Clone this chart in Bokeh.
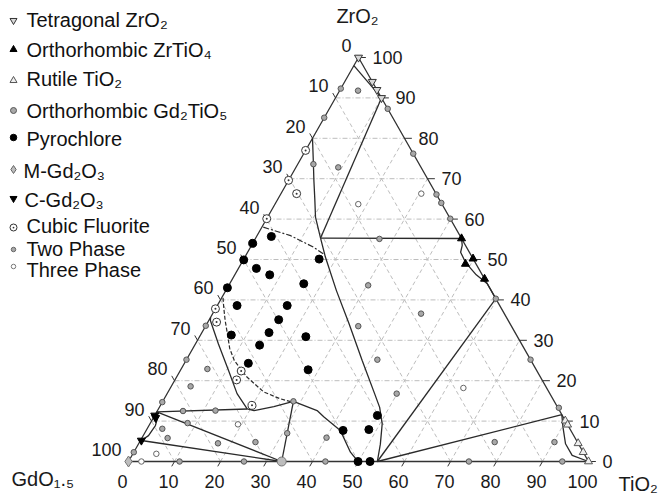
import numpy as np
from bokeh.plotting import figure
from bokeh.models import Range1d
from bokeh.embed import file_html
from bokeh.resources import INLINE
from bokeh.core.properties import value

# ---------------- data: ternary compositions (TiO2 %, ZrO2 %), GdO1.5 = 100 - TiO2 - ZrO2
tetragonal_ti = [0, 6, 8, 10]
tetragonal_zr = [100, 94, 92, 90]

zrtio4_ti = [44.8, 49.8, 48.8, 54.8]
zrtio4_zr = [55.2, 50.2, 48.9, 45.2]

rutile_ti = [100, 97.7, 95.5, 89.9, 90.9]
rutile_zr = [0, 2.3, 4.5, 10.1, 9.1]

gd2tio5_ti = [33.3]
gd2tio5_zr = [0]

pyro_ti = [3.2, 0, 0.1, 3.9, 7.6, 16.4, 16.1, 0, 4.3, 15.2, 15.1, 6.7, 14.6, 23.1,
           14.1, 13.9, 27.7, 42.8, 48.3, 48.4, 49.9, 52.5]
pyro_zr = [55.7, 54.0, 49.9, 47.8, 46.2, 50.1, 44.0, 43.0, 38.6, 38.6, 35.1, 31.3, 31.9, 30.9,
           28.8, 24.3, 22.7, 7.7, 7.9, 11.4, 0, 0]

mgd2o3_ti = [0]
mgd2o3_zr = [0]

cgd2o3_ti = [0, 0.5, 0.2]
cgd2o3_zr = [11.4, 10.8, 5.2]

fluorite_ti = [0, 0, 3.4, 0, 0, 1.9, 13.3, 13.4, 19.9]
fluorite_zr = [77, 69.6, 66.3, 60.1, 37.8, 34.5, 22.4, 20.2, 13.9]

two_ti = [4.0, 0, 0, 3.4, 9.2, 12.7, 23.8, 33.9, 36.0, 39.9, 27.0, 30.3, 33.2, 41.5, 45.3,
          49.9, 59.7, 74.8, 86.9, 77.2, 90.2, 74.0, 94.3, 0, 0, 0, 0, 5.7, 4.2, 5.6,
          12.6, 28.4, 8.1, 3.3, 5.6, 17.2, 25.2, 31.0, 11.1, 25.1, 42.8, 40.1]
two_zr = [91.8, 92.3, 85.1, 73.6, 72.8, 87.3, 76.2, 66.1, 64.0, 60.1, 55.1, 43.6, 33.5, 25.2, 36.6,
          16.8, 40.3, 25.2, 13.3, 4.8, 4.8, 0, 0, 33.6, 25.2, 14.7, 2.3, 22.9, 18.6, 12.5,
          12.6, 14.9, 9.5, 8.1, 5.8, 4.5, 4.8, 7.0, 0, 0, 0, 5.9]

three_ti = [18.1, 30.5, 63.7, 19.2, 5.1, 2.8]
three_zr = [63.7, 66.3, 18.2, 9.2, 1.9, 0]

# phase boundaries (TiO2 %, ZrO2 %)
solid_lines = [
    ([0, 10], [98, 90]),
    ([10, 14.1], [90, 55.3]),
    ([0, 3.4, 5.5, 8, 10.4, 14.1], [80, 73.6, 69.6, 65, 60.5, 55.3]),
    ([14.1, 44.8], [55.3, 55.2]),
    ([14.1, 17.5, 24.05, 30.9, 38.3, 45.1, 47.9, 50.5, 52.6, 54.1],
     [55.3, 50.6, 42.3, 34.1, 25.0, 16.8, 13.4, 9.3, 4.3, 0]),
    ([0, 0.35, 5, 10.5, 15.2, 19.3, 21, 24.8, 28.4, 34.7, 37, 42.2, 47.1, 49.9],
     [35.7, 34.9, 29.1, 22.5, 16.8, 13.0, 12.6, 13.6, 14.9, 12.6, 11, 7.7, 2.3, 0]),
    ([0, 19.3], [12.3, 13.0]),
    ([0, 33.3], [12.3, 0]),
    ([0.2, 33.3], [5.2, 0]),
    ([0, 1.0, 1.4, 1.15, 0.2], [12.3, 10.5, 8.9, 6.4, 5.2]),
    ([33.3, 28.4], [0, 14.9]),
    ([54.1, 59.7], [0, 40.3]),
    ([54.1, 88.4], [0, 11.6]),
    ([88.4, 90.2, 92.8, 95.7, 100], [11.6, 8.5, 4.4, 1.5, 0]),
    ([44.8, 45.8, 46.3, 48.6, 52.5, 56, 59.7], [55.2, 53.5, 51.8, 49.3, 46.2, 44, 40.3]),
]
dashdot_ti = [0.3, 7.3, 13.8, 17.0]
dashdot_zr = [58.0, 55.9, 53.0, 51.2]
dashed_ti = [0.3, 1.6, 3.5, 5.7, 8, 10.5, 15.3, 20.8, 25.3, 28]
dashed_zr = [40.5, 38.2, 35, 31.6, 28, 25, 20.9, 17.2, 15.5, 14.8]

tick_values = list(range(0, 101, 10))
tick_labels = [str(v) for v in tick_values]

legend_labels = ["Tetragonal ZrO\u2082", "Orthorhombic ZrTiO\u2084", "Rutile TiO\u2082",
                 "Orthorhombic Gd\u2082TiO\u2085", "Pyrochlore", "M-Gd\u2082O\u2083",
                 "C-Gd\u2082O\u2083", "Cubic Fluorite", "Two Phase", "Three Phase"]

# ---------------- layout
PX, PY = 4.6, 4.04      # pixels per unit
OX, OY = 128, 461       # picture pixel of the GdO1.5 corner
W, H = 663, 502
FONT = "Liberation Sans"
TUP = 7 / PY            # text baseline correction (upwards)


def tern(t, z):
    t = np.asarray(t, float)
    z = np.asarray(z, float)
    return t + z / 2.0, z


def img(ix, iy):
    return (ix - OX) / PX, (OY - iy) / PY


p = figure(width=W, height=H, output_backend="svg", toolbar_location=None,
           x_range=Range1d((0 - OX) / PX, (W - OX) / PX),
           y_range=Range1d((OY - H) / PY, OY / PY),
           x_axis_location=None, y_axis_location=None, min_border=0,
           outline_line_color=None, background_fill_color="white",
           border_fill_color="white")
p.xgrid.visible = False
p.ygrid.visible = False

# grid
ks = np.arange(10, 100, 10)
zero = np.zeros_like(ks)
gcol = "#bdbdbd"
x0, y0 = tern(zero, ks); x1, y1 = tern(100 - ks, ks)
p.segment(x0, y0, x1, y1, line_color=gcol, line_width=1, line_dash="5 2 1 2")
x0, y0 = tern(ks, zero); x1, y1 = tern(ks, 100 - ks)
p.segment(x0, y0, x1, y1, line_color=gcol, line_width=1, line_dash="4 3")
x0, y0 = tern(100 - ks, zero); x1, y1 = tern(zero, 100 - ks)
p.segment(x0, y0, x1, y1, line_color=gcol, line_width=1, line_dash="4 3")

# ticks
ecol = "#333333"
x0, y0 = tern(ks, zero); x1, y1 = tern(ks, zero - 1.2)
p.segment(x0, y0, x1, y1, line_color=ecol, line_width=1)
x0, y0 = tern(zero, 100 - ks); x1, y1 = tern(zero - 1.2, 100 - ks + 1.2)
p.segment(x0, y0, x1, y1, line_color=ecol, line_width=1)
tv = np.array(tick_values, float)
x0, y0 = tern(100 - tv, tv); x1, y1 = tern(100 - tv + 1.6, tv)
p.segment(x0, y0, x1, y1, line_color=ecol, line_width=1)

# triangle
tx, ty = tern([0, 100, 0, 0], [0, 0, 100, 0])
p.line(tx, ty, line_color=ecol, line_width=1.3)

# boundaries
for lt, lz in solid_lines:
    bx, by = tern(lt, lz)
    p.line(bx, by, line_color="#2a2a2a", line_width=1.3)
bx, by = tern(dashdot_ti, dashdot_zr)
p.line(bx, by, line_color="#2a2a2a", line_width=1.2, line_dash="6 2 2 2")
bx, by = tern(dashed_ti, dashed_zr)
p.line(bx, by, line_color="#2a2a2a", line_width=1.2, line_dash="4 2")

# markers
def pts(t, z, **kw):
    mx, my = tern(t, z)
    p.scatter(mx, my, **kw)

pts(two_ti, two_zr, marker="circle", size=5.5, fill_color="#a8a8a8", line_color="#555555", line_width=1)
pts(three_ti, three_zr, marker="circle", size=5.5, fill_color="white", line_color="#666666", line_width=1)
pts(tetragonal_ti, tetragonal_zr, marker="inverted_triangle", size=8, fill_color="#d8d8d8", line_color="#333333")
pts(zrtio4_ti, zrtio4_zr, marker="triangle", size=8, fill_color="black", line_color="black")
pts(rutile_ti, rutile_zr, marker="triangle", size=8, fill_color="#eeeeee", line_color="#555555")
pts(gd2tio5_ti, gd2tio5_zr, marker="circle", size=9, fill_color="#bdbdbd", line_color="#777777")
pts(pyro_ti, pyro_zr, marker="circle", size=8, fill_color="black", line_color="black")
pts(mgd2o3_ti, mgd2o3_zr, marker="diamond", size=11, fill_color="#bdbdbd", line_color="#777777")
pts(cgd2o3_ti, cgd2o3_zr, marker="inverted_triangle", size=8, fill_color="black", line_color="black")
pts(fluorite_ti, fluorite_zr, marker="circle_dot", size=8, fill_color="white", line_color="#333333")

# tick labels
tfont = dict(text_font=value(FONT), text_font_size="18px", text_color="#1a1a1a",
             text_baseline="alphabetic")
bx, by = tern(tv, np.zeros_like(tv))
p.text(bx - 6 / PX, by - 27 / PY + TUP, text=tick_labels, text_align="center", **tfont)
lx, ly = tern(np.zeros_like(tv), 100 - tv)
p.text(lx - 7 / PX, ly + 5 / PY + TUP, text=tick_labels, text_align="right", **tfont)
rx, ry = tern(100 - tv, tv)
p.text(rx + 14 / PX, ry - 7 / PY + TUP, text=tick_labels, text_align="left", **tfont)

# axis titles
afont = dict(text_font=value(FONT), text_font_size="20px", text_color="#1a1a1a",
             text_baseline="alphabetic")
ax_, ay_ = tern([0], [100])
p.text(ax_ - 1 / PX, [(OY - 22) / PY + TUP], text=["ZrO\u2082"], text_align="center", **afont)
gx, gy = img(11, 485)
p.text([gx], [gy + TUP], text=["GdO\u2081.\u2085"], text_align="left", **afont)
tx2, ty2 = img(618, 490)
p.text([tx2], [ty2 + TUP], text=["TiO\u2082"], text_align="left", **afont)

# legend
leg_marker = [dict(marker="inverted_triangle", size=7, fill_color="#d8d8d8", line_color="#333333"),
              dict(marker="triangle", size=7, fill_color="black", line_color="black"),
              dict(marker="triangle", size=7, fill_color="#eeeeee", line_color="#555555"),
              dict(marker="circle", size=6, fill_color="#a8a8a8", line_color="#555555"),
              dict(marker="circle", size=6.5, fill_color="black", line_color="black"),
              dict(marker="diamond", size=8, fill_color="#bdbdbd", line_color="#666666"),
              dict(marker="inverted_triangle", size=7, fill_color="black", line_color="black"),
              dict(marker="circle_dot", size=7, fill_color="white", line_color="#333333"),
              dict(marker="circle", size=4.5, fill_color="#a8a8a8", line_color="#666666"),
              dict(marker="circle", size=4.5, fill_color="white", line_color="#777777")]
leg_marker_y = [20, 49, 80, 110, 137, 169, 198, 227, 249, 266]
leg_text_x = [26, 26, 26, 26, 26, 23, 24, 26, 26, 26]
leg_base_y = [26, 56, 85, 117, 145, 177, 206, 232, 255, 276]
for lab, mk, my_, txx, tby in zip(legend_labels, leg_marker, leg_marker_y, leg_text_x, leg_base_y):
    mx, myd = img(13, my_)
    p.scatter([mx], [myd], **mk)
    tx_, ty_ = img(txx, tby)
    p.text([tx_], [ty_ + TUP], text=[lab], text_font=value(FONT), text_font_size="20px",
           text_color="#111111", text_baseline="alphabetic", text_align="left")

open("out.html", "w").write(file_html(p, INLINE))
